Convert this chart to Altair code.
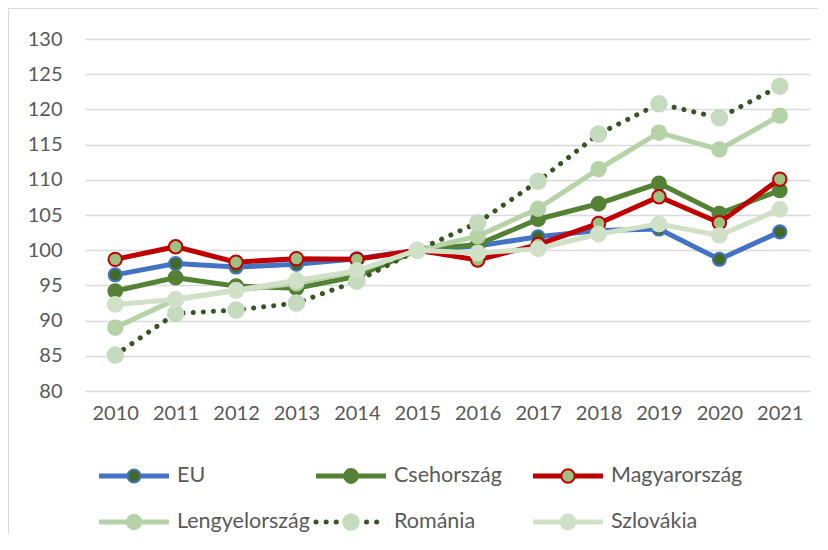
import altair as alt
import pandas as pd

years = [str(y) for y in range(2010, 2022)]
series_names = ["EU", "Csehország", "Magyarország", "Lengyelország", "Románia", "Szlovákia"]
eu = [96.5, 98.1, 97.6, 98.0, 98.8, 100, 100.6, 101.9, 102.8, 103.0, 98.7, 102.6]
cseh = [94.2, 96.1, 94.9, 94.6, 96.3, 100, 100.8, 104.4, 106.6, 109.5, 105.2, 108.5]
magyar = [98.7, 100.5, 98.3, 98.8, 98.7, 100, 98.6, 100.8, 103.8, 107.6, 103.9, 110.1]
lengyel = [89.0, 93.0, 94.3, 95.3, 97.0, 100, 102.0, 105.9, 111.5, 116.7, 114.3, 119.1]
romania = [85.1, 91.0, 91.5, 92.5, 95.6, 100, 103.9, 109.8, 116.5, 120.8, 118.8, 123.3]
szlovakia = [92.3, 93.0, 94.3, 95.7, 97.1, 100, 99.6, 100.2, 102.3, 103.7, 102.1, 105.8]
values = [eu, cseh, magyar, lengyel, romania, szlovakia]

# styles: line colour, marker fill, marker stroke, dash, marker size
styles = {
    "EU": ("#4472C4", "#3F6B27", "#4472C4", None, 170),
    "Csehország": ("#548235", "#548235", "#548235", None, 190),
    "Magyarország": ("#C00000", "#9BC283", "#C00000", None, 180),
    "Lengyelország": ("#B6D3A8", "#B6D3A8", "#B6D3A8", None, 210),
    "Románia": ("#375623", "#C5DBBE", "#C5DBBE", [0.1, 10], 240),
    "Szlovákia": ("#D0E1C8", "#D0E1C8", "#D0E1C8", None, 220),
}
legend_col = [0, 1, 2, 0, 1, 2]
legend_row = [0, 0, 0, 1, 1, 1]

FONT = "Lato"
TXT = "#595959"

x_enc = alt.X("year:O", scale=alt.Scale(type="point", padding=0.5),
              axis=alt.Axis(title=None, labelAngle=0, domain=False, ticks=False,
                            labelPadding=12, labelFontSize=20, labelColor=TXT, labelFont=FONT, grid=False))
y_enc = alt.Y("value:Q", scale=alt.Scale(domain=[80, 130], nice=False, zero=False),
              axis=alt.Axis(title=None, values=list(range(80, 131, 5)), domain=False, ticks=False,
                            labelPadding=23, labelFontSize=20, labelColor=TXT, labelFont=FONT,
                            grid=True, gridColor="#D9D9D9", gridWidth=1.5))

layers = []
for name, vals in zip(series_names, values):
    df = pd.DataFrame({"year": years, "value": vals})
    lc, mf, ms, dash, sz = styles[name]
    if dash:
        line = alt.Chart(df).mark_line(color=lc, strokeWidth=5, strokeDash=dash, strokeCap="round")
    else:
        line = alt.Chart(df).mark_line(color=lc, strokeWidth=5)
    pts = alt.Chart(df).mark_point(filled=True, fill=mf, stroke=ms, strokeWidth=2, size=sz, opacity=1)
    layers.append(line.encode(x=x_enc, y=y_enc))
    layers.append(pts.encode(x=x_enc, y=y_enc))

# chart frame (outer border of the chart area)
frame_df = pd.DataFrame({"k": [0]})
frame_left = alt.Chart(frame_df).mark_rule(color="#D9D9D9", strokeWidth=1).encode(
    x=alt.value(-76.5), y=alt.value(-30.5), y2=alt.value(495))
frame_top = alt.Chart(frame_df).mark_rule(color="#D9D9D9", strokeWidth=1).encode(
    y=alt.value(-30.5), x=alt.value(-76.5), x2=alt.value(733))

main = alt.layer(frame_left, frame_top, *layers).properties(width=725, height=352)

leg_layers = []
xs = alt.Scale(domain=[0, 2], range=[14, 448])
ys = alt.Scale(domain=[0, 1], range=[32, 78])
for i, name in enumerate(series_names):
    lc, mf, ms, dash, sz = styles[name]
    d = pd.DataFrame({"col": [legend_col[i]], "row": [legend_row[i]], "label": [name]})
    enc = dict(x=alt.X("col:Q", scale=xs, axis=None), y=alt.Y("row:Q", scale=ys, axis=None))
    if dash:
        r = alt.Chart(d).mark_rule(color=lc, strokeWidth=5, strokeDash=dash, strokeCap="round", x2Offset=70)
    else:
        r = alt.Chart(d).mark_rule(color=lc, strokeWidth=5, x2Offset=70)
    leg_layers.append(r.encode(x2="col:Q", **enc))
    leg_layers.append(alt.Chart(d).mark_point(filled=True, fill=mf, stroke=ms, strokeWidth=2,
                                              size=sz, opacity=1, xOffset=35).encode(**enc))
    leg_layers.append(alt.Chart(d).mark_text(align="left", baseline="middle", dx=78, font=FONT,
                                             fontSize=21.5, color=TXT).encode(text="label:N", **enc))

legend = alt.layer(*leg_layers).properties(width=725, height=80)

chart = alt.vconcat(main, legend, spacing=53, bounds="flush").properties(
    padding={"left": 0, "top": 0, "right": 0, "bottom": 0}, background="white"
).configure_view(stroke=None)

chart.save("out.html", embed_options={"renderer": "svg", "actions": False})
